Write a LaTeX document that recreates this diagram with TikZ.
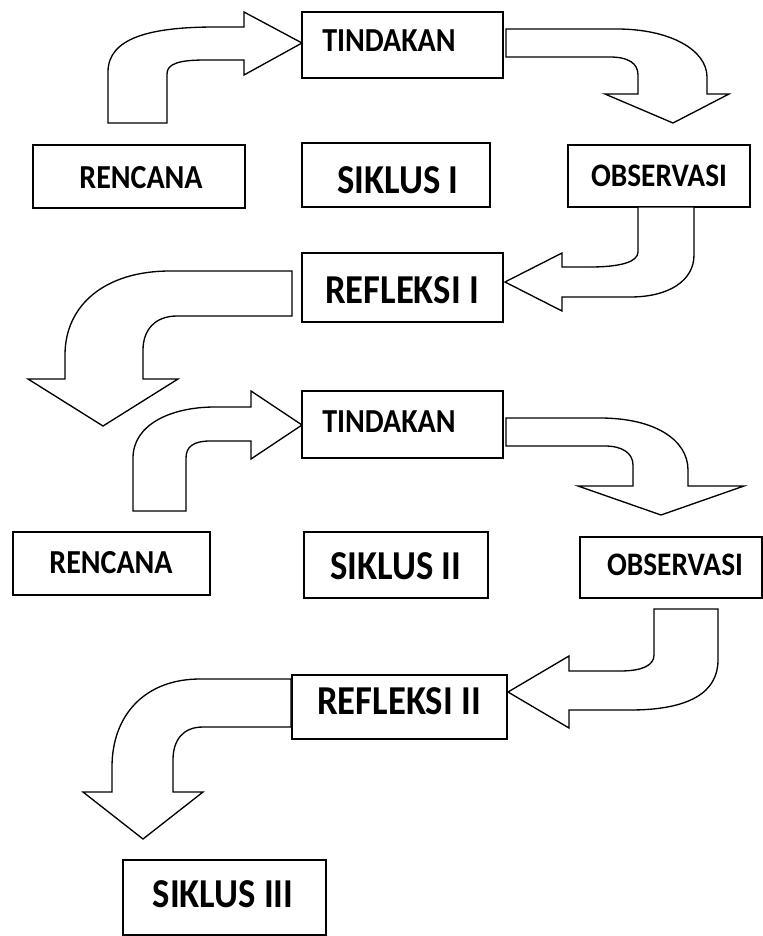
\documentclass[tikz,border=0pt]{standalone}
\usepackage{fontspec}
\usepackage{graphicx}
\setmainfont{Carlito}
\usetikzlibrary{fit}
\newcommand{\tallword}[1]{\scalebox{1}[1.12]{#1}}

\begin{document}
\begin{tikzpicture}[x=0.75pt, y=-0.75pt,
    box/.style = {draw, line width=1.1pt, inner sep=0pt},
    bigarrow/.style = {draw, line width=1pt, line join=miter, fill=white},
    txt/.style = {font=\fontsize{22.5}{26}\selectfont\bfseries, inner sep=0pt},
    bigtxt/.style = {font=\fontsize{27.5}{32}\selectfont\bfseries, inner sep=0pt},
    smalltxt/.style = {font=\fontsize{22}{26}\selectfont\bfseries, inner sep=0pt}]

    \useasboundingbox (0,0) rectangle (763,936);

    % Siklus I:
    \node[box, fit={(302,12) (503,78)}] (tind1) {};
    \node[txt, anchor=west] (tind1t) at (322,41) {\tallword{TINDAKAN}};
    \node[box, fit={(33,145) (245,208)}] (renc1) {};
    \node[txt] (renc1t) at (141,178) {\tallword{RENCANA}};
    \node[box, fit={(302,143) (490,207)}] (sik1) {};
    \node[bigtxt] (sik1t) at (398,180) {\tallword{SIKLUS I}};
    \node[box, fit={(568,145) (750,207)}] (obs1) {};
    \node[smalltxt] (obs1t) at (659,176) {\tallword{OBSERVASI}};
    \node[box, fit={(302,253) (503,322)}] (refl1) {};
    \node[bigtxt] (refl1t) at (402,290) {\tallword{REFLEKSI I}};

    \draw[bigarrow] (108,123) -- (108,72) .. controls (108,38) and (150,27) .. (215,27) -- (244,27) -- (244,12) -- (302,43) -- (244,75) -- (244,60) -- (205,60) .. controls (178,60) and (167,64) .. (167,74) -- (167,123) -- cycle;
    \draw[bigarrow] (506,29) -- (617,29) .. controls (670,29) and (707,50) .. (707,77) -- (707,94) -- (729,94) -- (673,123) -- (605,94) -- (638,94) -- (638,75) .. controls (638,63) and (628,57) .. (610,57) -- (506,57) -- cycle;
    \draw[bigarrow] (638,207) -- (638,252) .. controls (638,262) and (620,267) .. (590,267) -- (562,267) -- (562,253) -- (505,282) -- (562,311) -- (562,297) -- (630,297) .. controls (670,297) and (694,280) .. (694,255) -- (694,207) -- cycle;
    \draw[bigarrow] (292,271) -- (170,271) .. controls (105,271) and (65,305) .. (65,355) -- (65,379) -- (28,379) -- (103,426) -- (178,379) -- (143,379) -- (143,350) .. controls (143,330) and (155,316) .. (177,316) -- (292,316) -- cycle;

    % Siklus II:
    \node[box, fit={(302,391) (503,458)}] (tind2) {};
    \node[txt, anchor=west] (tind2t) at (322,422) {\tallword{TINDAKAN}};
    \node[box, fit={(13,532) (210,595)}] (renc2) {};
    \node[txt] (renc2t) at (111,563) {\tallword{RENCANA}};
    \node[box, fit={(304,532) (488,598)}] (sik2) {};
    \node[bigtxt] (sik2t) at (396,566) {\tallword{SIKLUS II}};
    \node[box, fit={(580,537) (762,598)}] (obs2) {};
    \node[smalltxt] (obs2t) at (675,565) {\tallword{OBSERVASI}};
    \node[box, fit={(292,675) (507,739)}] (refl2) {};
    \node[bigtxt] (refl2t) at (399,701) {\tallword{REFLEKSI II}};

    \draw[bigarrow] (133,511) -- (133,458) .. controls (133,425) and (170,407) .. (215,407) -- (251,407) -- (251,391) -- (302,425) -- (251,459) -- (251,441) -- (210,441) .. controls (193,441) and (186,447) .. (186,458) -- (186,511) -- cycle;
    \draw[bigarrow] (506,418) -- (600,418) .. controls (655,418) and (688,440) .. (688,470) -- (688,486) -- (744,486) -- (661,515) -- (578,486) -- (633,486) -- (633,465) .. controls (633,453) and (622,446) .. (605,446) -- (506,446) -- cycle;
    \draw[bigarrow] (654,609) -- (718,609) -- (718,660) .. controls (718,692) and (690,710) .. (630,710) -- (569,710) -- (569,728) -- (508,692) -- (569,656) -- (569,671) -- (620,671) .. controls (643,671) and (654,665) .. (654,655) -- cycle;
    \draw[bigarrow] (291,679) -- (200,679) .. controls (145,679) and (112,715) .. (112,767) -- (112,792) -- (83,792) -- (143,839) -- (203,792) -- (173,792) -- (173,760) .. controls (173,740) and (183,727) .. (203,727) -- (291,727) -- cycle;

    % Siklus III:
    \node[box, fit={(123,860) (326,935)}] (sik3) {};
    \node[bigtxt] (sik3t) at (223,894) {\tallword{SIKLUS III}};
\end{tikzpicture}
\end{document}
